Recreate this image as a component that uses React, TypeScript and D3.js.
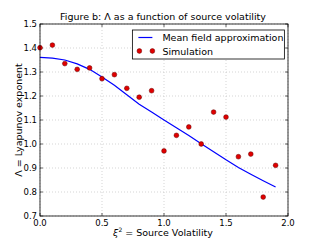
import React from "react";
import * as d3 from "d3";

const simX = [0, 0.1, 0.2, 0.3, 0.4, 0.5, 0.6, 0.7, 0.8, 0.9, 1.0, 1.1, 1.2, 1.3, 1.4, 1.5, 1.6, 1.7, 1.8, 1.9];
const simY = [1.401, 1.412, 1.335, 1.311, 1.317, 1.272, 1.289, 1.232, 1.195, 1.222, 0.971, 1.036, 1.071, 1.0, 1.133, 1.112, 0.947, 0.958, 0.779, 0.911];
const lineX = [0, 0.1, 0.2, 0.3, 0.4, 0.5, 0.6, 0.7, 0.8, 0.9, 1.0, 1.1, 1.2, 1.3, 1.4, 1.5, 1.6, 1.7, 1.8, 1.9];
const lineY = [1.361, 1.358, 1.35, 1.334, 1.311, 1.279, 1.245, 1.205, 1.166, 1.133, 1.1, 1.068, 1.035, 1.001, 0.968, 0.934, 0.902, 0.874, 0.847, 0.821];
const xTicks = [0, 0.5, 1.0, 1.5, 2.0];
const yTicks = [0.7, 0.8, 0.9, 1.0, 1.1, 1.2, 1.3, 1.4, 1.5];

export default function App() {
  const width = 320;
  const height = 240;
  const margin = { top: 24, right: 32, bottom: 24, left: 40 };
  const innerW = width - margin.left - margin.right;
  const innerH = height - margin.top - margin.bottom;

  const x = d3.scaleLinear().domain([0, 2]).range([0, innerW]);
  const y = d3.scaleLinear().domain([0.7, 1.5]).range([innerH, 0]);

  const line = d3
    .line<number>()
    .x((_, i) => x(lineX[i]))
    .y((d) => y(d));

  const font = "DejaVu Sans, sans-serif";

  return (
    <svg
      width={width}
      height={height}
      style={{ position: "absolute", left: 0, top: 0, background: "#fff" }}
      fontFamily={font}
    >
      <text x={163} y={20} fontSize={9.5} textAnchor="middle">
        Figure b: Λ as a function of source volatility
      </text>
      <g transform={`translate(${margin.left},${margin.top})`}>
        {/* grid */}
        {xTicks.map((t) => (
          <line key={"gx" + t} x1={x(t)} x2={x(t)} y1={0} y2={innerH} stroke="#bbb" strokeWidth={0.6} strokeDasharray="1,2" />
        ))}
        {yTicks.map((t) => (
          <line key={"gy" + t} x1={0} x2={innerW} y1={y(t)} y2={y(t)} stroke="#bbb" strokeWidth={0.6} strokeDasharray="1,2" />
        ))}
        {/* ticks inward */}
        {xTicks.map((t) => (
          <g key={"tx" + t}>
            <line x1={x(t)} x2={x(t)} y1={innerH} y2={innerH - 3} stroke="#000" strokeWidth={0.6} />
            <line x1={x(t)} x2={x(t)} y1={0} y2={3} stroke="#000" strokeWidth={0.6} />
            <text x={x(t)} y={innerH + 10} fontSize={8.5} textAnchor="middle">
              {t.toFixed(1)}
            </text>
          </g>
        ))}
        {yTicks.map((t) => (
          <g key={"ty" + t}>
            <line x1={0} x2={3} y1={y(t)} y2={y(t)} stroke="#000" strokeWidth={0.6} />
            <line x1={innerW} x2={innerW - 3} y1={y(t)} y2={y(t)} stroke="#000" strokeWidth={0.6} />
            <text x={-3} y={y(t) + 3} fontSize={8.5} textAnchor="end">
              {t.toFixed(1)}
            </text>
          </g>
        ))}
        <path d={line(lineY) || ""} fill="none" stroke="#0000ff" strokeWidth={1.2} />
        {simY.map((v, i) => (
          <circle key={"p" + i} cx={x(simX[i])} cy={y(v)} r={2.4} fill="#e00000" stroke="#600" strokeWidth={0.5} />
        ))}
        <rect x={0} y={0} width={innerW} height={innerH} fill="none" stroke="#000" strokeWidth={0.8} />
        {/* legend */}
        <g transform={`translate(${x(0.745)},${y(1.475)})`}>
          <rect x={0} y={0} width={152} height={29} fill="#fff" stroke="#000" strokeWidth={0.8} />
          <line x1={6} x2={20} y1={7.5} y2={7.5} stroke="#0000ff" strokeWidth={1.2} />
          <text x={30} y={11} fontSize={9.5}>Mean field approximation</text>
          <circle cx={7} cy={21} r={2.4} fill="#e00000" stroke="#600" strokeWidth={0.5} />
          <circle cx={20} cy={21} r={2.4} fill="#e00000" stroke="#600" strokeWidth={0.5} />
          <text x={30} y={24.5} fontSize={9.5}>Simulation</text>
        </g>
      </g>
      <text
        transform={`translate(22,${margin.top + innerH / 2}) rotate(-90)`}
        fontSize={9.5}
        textAnchor="middle"
      >
        Λ = Lyapunov exponent
      </text>
      <text x={163} y={236} fontSize={9.5} textAnchor="middle">
        <tspan fontStyle="italic">ξ</tspan>
        <tspan fontSize={6} dy={-4}>2</tspan>
        <tspan dy={4}> = Source Volatility</tspan>
      </text>
    </svg>
  );
}
